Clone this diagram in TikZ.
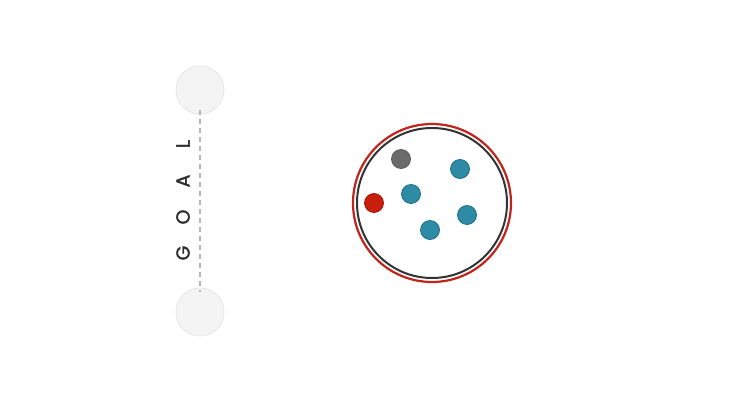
\documentclass[tikz,border=0pt]{standalone}
\usepackage{fontspec}
\setmainfont{Poppins}
\newfontfamily\goalfont[FakeBold=1.6]{Poppins}
\begin{document}
\begin{tikzpicture}[x=1pt,y=-1pt,
  goalnode/.style={circle,minimum size=48pt,inner sep=0pt,fill=goalfill,draw=goaledge,line width=0.8pt},
  dot/.style={circle,minimum size=19pt,inner sep=0pt,line width=0.8pt},
  tealdot/.style={dot,fill=teal1,draw=tealedge},
  letter/.style={rotate=90,font=\goalfont\fontsize{19}{19}\selectfont,text=lettc,inner sep=0pt}]
\definecolor{goalfill}{HTML}{F4F4F4}
\definecolor{goaledge}{HTML}{E6E6E6}
\definecolor{teal1}{HTML}{2E8BA6}
\definecolor{tealedge}{HTML}{216F86}
\definecolor{redc}{HTML}{C81E0C}
\definecolor{ringred}{HTML}{C0241C}
\definecolor{ringdark}{HTML}{333333}
\definecolor{grayc}{HTML}{6B6B6B}
\definecolor{lettc}{HTML}{2E2E2E}
\definecolor{dashc}{HTML}{B5B5B5}
\fill[white] (0,0) rectangle (739,415);
\useasboundingbox (0,0) rectangle (739,415);
\node[goalnode] (gtop) at (200,90) {};
\node[goalnode] (gbot) at (200,312) {};
\draw[dashc,line width=1.1pt,dash pattern=on 5pt off 4pt] ([yshift=4pt]gtop.south) -- ([yshift=-4pt]gbot.north);
\node[letter] (lG) at (183,253) {G};
\node[letter] (lO) at (183,217) {O};
\node[letter] (lA) at (183,181) {A};
\node[letter] (lL) at (183,144) {L};
\node[circle,minimum size=158pt,inner sep=0pt,draw=ringred,line width=2.2pt] (outer) at (432,203) {};
\node[circle,minimum size=150pt,inner sep=0pt,draw=ringdark,line width=2pt] (inner) at (432,203) {};
\node[dot,fill=grayc,draw=grayc!85!black] (d1) at (401,159) {};
\node[tealdot] (d2) at (460,169) {};
\node[tealdot] (d3) at (411,194) {};
\node[tealdot] (d4) at (467,215) {};
\node[tealdot] (d5) at (430,230) {};
\node[dot,fill=redc,draw=redc!80!black] (d6) at (374,203) {};
\end{tikzpicture}
\end{document}
